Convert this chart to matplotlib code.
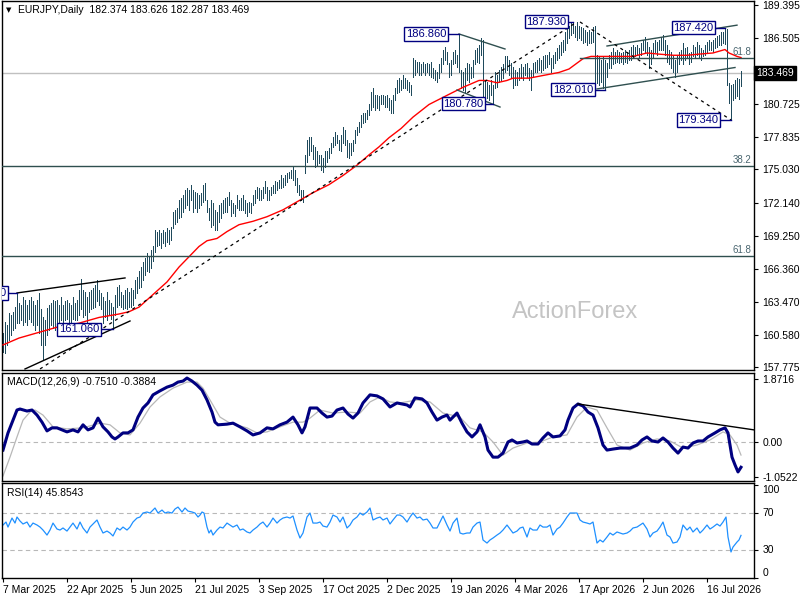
import matplotlib
matplotlib.use('Agg')
import matplotlib.pyplot as plt
import matplotlib.transforms as mtransforms

plt.rcParams['font.family'] = ['Liberation Sans', 'DejaVu Sans']

# ---------------- data ----------------
title_text = 'EURJPY,Daily  182.374 183.626 182.287 183.469'
macd_title = 'MACD(12,26,9) -0.7510 -0.3884'
rsi_title = 'RSI(14) 45.8543'
last_close = 183.469

# daily bar highs / lows, one per trading day from 7 Mar 2025
highs = [
    160.7, 161.7, 161.4, 162.5, 162.3, 162.6, 163.0, 164.2, 163.4, 163.2,
    163.9, 163.6, 163.2, 163.6, 163.9, 163.5, 163.2, 163.6, 164.2, 162.8,
    162.1, 161.9, 162.9, 163.2, 163.4, 163.6, 163.5, 163.6, 163.2, 163.9,
    163.2, 163.5, 163.6, 163.4, 163.2, 163.9, 163.4, 163.6, 164.5, 165.5,
    164.5, 164.3, 163.9, 164.3, 164.5, 164.7, 164.9, 165.4, 164.5, 164.2,
    163.9, 163.5, 164.3, 163.6, 163.4, 163.0, 164.1, 164.8, 164.9, 164.3,
    164.1, 164.5, 164.7, 164.3, 164.7, 164.5, 165.4, 165.6, 166.2, 166.5,
    166.9, 167.3, 167.7, 167.4, 168.0, 168.3, 169.7, 169.6, 169.7, 169.5,
    169.7, 169.6, 169.9, 169.7, 170.0, 171.3, 171.5, 171.7, 172.4, 172.5,
    172.8, 173.2, 173.4, 173.2, 173.7, 173.2, 173.1, 173.0, 172.8, 173.0,
    173.7, 173.8, 172.4, 171.7, 172.4, 172.1, 171.5, 171.3, 171.9, 172.1,
    172.4, 172.5, 172.6, 173.1, 172.4, 172.1, 171.9, 172.8, 172.4, 172.5,
    172.8, 172.4, 172.1, 172.2, 172.1, 172.8, 173.2, 173.5, 173.4, 173.2,
    173.5, 174.0, 173.5, 173.2, 173.5, 173.7, 174.0, 173.9, 174.1, 174.5,
    174.3, 174.5, 174.7, 174.8, 175.0, 175.2, 175.0, 174.3, 173.7, 173.2,
    173.2, 176.3, 177.6, 177.9, 177.9, 177.2, 177.0, 176.6, 176.3, 176.3,
    176.0, 176.6, 176.6, 176.9, 177.3, 177.9, 178.3, 178.0, 177.6, 178.0,
    178.7, 178.5, 177.6, 177.3, 177.3, 177.6, 178.5, 178.7, 179.2, 179.8,
    180.0, 180.0, 180.2, 180.7, 181.8, 182.1, 181.5, 181.5, 181.4, 181.5,
    181.5, 181.4, 181.5, 181.3, 181.1, 181.5, 182.1, 182.8, 183.0, 182.8,
    183.3, 183.0, 182.8, 182.7, 182.4, 184.8, 184.6, 184.4, 184.4, 184.2,
    184.4, 184.2, 184.3, 184.2, 184.4, 183.9, 183.7, 183.5, 184.2, 184.8,
    185.5, 185.7, 185.3, 184.3, 184.6, 185.3, 185.5, 185.0, 186.86, 183.7,
    183.5, 183.9, 184.3, 184.2, 184.0, 184.6, 185.5, 185.6, 185.9, 186.5,
    186.3, 182.8, 182.7, 182.4, 182.8, 182.4, 183.5, 183.3, 183.7, 184.0,
    184.2, 184.9, 184.9, 184.6, 184.3, 184.0, 183.7, 183.5, 183.9, 184.2,
    184.0, 184.2, 184.3, 183.9, 183.7, 184.3, 184.4, 184.6, 184.8, 184.6,
    184.9, 185.0, 185.0, 185.3, 184.8, 185.0, 185.3, 185.6, 185.9, 186.2,
    186.3, 187.0, 187.4, 187.6, 187.8, 187.93, 187.6, 187.9, 187.6, 187.5,
    187.4, 187.2, 187.0, 187.2, 187.0, 187.5, 187.6, 185.0, 184.9, 184.6,
    184.9, 184.6, 184.3, 185.0, 185.3, 185.6, 185.3, 185.5, 185.3, 185.2,
    185.3, 185.5, 185.3, 185.5, 185.7, 185.9, 185.7, 185.9, 185.6, 186.1,
    186.3, 186.6, 186.2, 185.7, 185.5, 186.1, 186.3, 186.2, 186.3, 186.6,
    186.8, 186.3, 185.9, 185.5, 185.3, 184.9, 184.6, 185.0, 185.3, 185.5,
    186.1, 185.6, 185.7, 185.2, 185.3, 185.9, 185.7, 186.2, 185.9, 185.6,
    185.5, 185.9, 186.2, 186.3, 186.2, 186.3, 186.5, 186.7, 186.8, 187.0,
    187.0, 187.42, 187.3, 182.6, 182.4, 182.5, 182.8, 183.0, 182.9, 183.63,
]
lows = [
    159.1, 159.0, 159.7, 160.1, 160.6, 161.0, 161.2, 161.6, 161.6, 161.9,
    161.4, 161.7, 161.4, 162.0, 161.7, 161.4, 161.0, 161.4, 160.7, 159.7,
    158.4, 159.7, 160.6, 161.0, 161.4, 161.2, 161.0, 161.4, 161.7, 161.9,
    161.4, 161.9, 162.0, 161.7, 161.7, 162.0, 161.9, 161.9, 162.3, 162.8,
    162.1, 162.3, 161.7, 162.6, 162.8, 162.9, 163.0, 163.5, 163.2, 162.8,
    161.6, 162.1, 161.9, 162.3, 162.0, 161.06, 162.3, 163.0, 163.2, 163.0,
    162.8, 162.9, 162.8, 163.0, 163.0, 163.2, 163.8, 164.2, 164.7, 164.8,
    165.4, 165.8, 166.2, 166.1, 166.4, 167.0, 167.8, 168.3, 168.4, 168.2,
    168.6, 168.3, 168.7, 168.5, 168.9, 169.9, 170.3, 170.4, 170.8, 170.9,
    171.3, 171.7, 171.9, 171.5, 172.4, 171.3, 171.7, 171.3, 171.7, 171.9,
    172.2, 172.4, 171.3, 170.6, 170.0, 170.2, 169.7, 169.7, 170.4, 170.8,
    171.2, 171.3, 171.3, 171.9, 171.0, 171.2, 171.0, 171.7, 171.5, 171.5,
    171.5, 171.2, 171.0, 171.3, 171.2, 171.9, 172.1, 172.5, 172.4, 172.4,
    172.5, 173.0, 172.4, 172.4, 172.8, 173.0, 173.0, 173.2, 173.4, 173.4,
    173.5, 173.7, 173.9, 174.3, 174.3, 174.1, 173.7, 173.1, 172.8, 172.4,
    172.2, 174.7, 175.7, 176.3, 176.6, 175.9, 175.2, 175.4, 175.6, 175.0,
    174.8, 175.2, 175.7, 176.0, 176.5, 177.0, 177.2, 177.3, 176.7, 176.6,
    177.3, 177.2, 176.1, 176.0, 176.3, 176.6, 177.3, 178.0, 178.3, 178.7,
    179.1, 179.2, 179.4, 179.8, 180.2, 180.5, 180.2, 180.4, 180.2, 180.7,
    180.7, 180.5, 180.5, 180.2, 180.0, 180.0, 181.1, 181.7, 181.8, 182.0,
    182.1, 182.1, 182.0, 181.8, 181.5, 183.1, 183.3, 183.5, 183.3, 183.3,
    183.5, 183.3, 183.5, 183.3, 183.1, 183.0, 182.8, 182.7, 183.0, 183.5,
    184.2, 184.6, 184.2, 183.1, 183.3, 184.2, 184.3, 184.0, 183.5, 182.1,
    182.0, 181.8, 182.8, 182.7, 183.0, 183.1, 184.2, 184.4, 184.3, 185.0,
    181.1, 181.4, 181.3, 181.1, 181.5, 180.78, 182.1, 182.2, 182.7, 182.8,
    183.0, 183.5, 183.7, 183.3, 183.0, 182.1, 182.4, 182.4, 182.8, 183.0,
    182.8, 183.3, 183.1, 182.8, 182.0, 183.1, 183.5, 183.5, 183.7, 183.5,
    183.7, 183.9, 184.0, 184.2, 183.5, 183.9, 184.3, 184.6, 184.8, 185.0,
    185.3, 185.5, 186.1, 186.5, 186.8, 186.95, 186.6, 186.3, 186.5, 186.3,
    186.1, 186.2, 185.9, 186.1, 186.1, 186.2, 182.4, 182.6, 182.4, 182.7,
    182.1, 182.01, 183.1, 183.9, 183.9, 184.2, 184.3, 184.4, 184.3, 184.4,
    184.2, 184.4, 184.3, 184.6, 184.6, 184.8, 184.9, 185.0, 184.8, 185.0,
    185.5, 185.3, 185.0, 183.9, 184.2, 184.8, 185.3, 185.0, 185.5, 185.5,
    185.5, 185.0, 184.4, 184.2, 183.9, 183.5, 183.1, 183.5, 184.2, 184.6,
    184.2, 184.6, 184.8, 184.2, 184.4, 184.9, 184.8, 185.0, 184.8, 184.6,
    184.9, 185.0, 185.3, 185.5, 185.5, 185.3, 185.6, 185.7, 185.9, 185.9,
    186.1, 186.0, 182.4, 180.8, 179.34, 181.1, 181.3, 181.4, 181.2, 182.29,
]

# moving average (red), (bar, price)
ma_line = [
    (0, 159.7), (8, 160.3), (18, 160.8), (28, 161.3), (38, 161.6), (48, 162.1),
    (58, 162.4), (63, 162.6), (68, 163.0), (75, 164.1), (82, 165.2), (88, 166.5),
    (93, 167.4), (98, 168.3), (102, 168.8), (107, 169.0), (112, 169.6), (118, 170.2),
    (125, 170.5), (132, 170.9), (140, 171.5), (148, 172.3), (155, 173.0), (163, 173.7),
    (170, 174.5), (177, 175.4), (183, 176.3), (188, 177.0), (193, 177.8), (199, 178.6),
    (205, 179.6), (213, 180.7), (222, 181.5), (230, 182.2), (238, 182.8), (242, 182.8),
    (247, 182.6), (252, 182.8), (255, 183.0), (263, 183.0), (272, 183.3), (278, 183.5),
    (283, 183.8), (290, 184.7), (294, 184.9), (298, 184.9), (315, 184.9), (322, 185.2),
    (328, 185.1), (335, 185.0), (342, 185.0), (348, 185.1), (355, 185.2), (361, 185.5),
    (363, 185.2), (367, 184.9), (369, 184.8),
]

macd_line = [
    (0, -0.24), (2.5, 0.27), (5, 0.65), (7, 0.95), (8.5, 0.98), (12, 0.92), (14.5, 0.95),
    (17, 0.80), (19.5, 0.59), (22, 0.33), (24.5, 0.42), (27, 0.42), (29.5, 0.36), (32, 0.30),
    (35, 0.36), (37.5, 0.30), (40, 0.51), (42.5, 0.36), (45, 0.42), (47.5, 0.71), (50, 0.45),
    (52.5, 0.30), (54.5, 0.15), (56, 0.09), (57.5, 0.15), (60, 0.27), (62.5, 0.27), (65, 0.36),
    (67.5, 0.74), (70, 1.01), (72.5, 1.16), (75, 1.40), (78.5, 1.52), (82, 1.63), (85, 1.69),
    (87.5, 1.78), (90, 1.81), (92, 1.90), (94.5, 1.81), (97, 1.69), (99.5, 1.54), (102, 1.25),
    (104.5, 0.89), (106, 0.59), (107.5, 0.51), (112, 0.53), (115, 0.56), (118.5, 0.45),
    (122, 0.33), (125, 0.21), (128.5, 0.27), (132, 0.42), (135, 0.39), (138.5, 0.51),
    (142, 0.59), (145, 0.74), (147.5, 0.51), (149.5, 0.27), (151, 0.45), (153.5, 1.01),
    (157, 1.01), (159.5, 0.86), (162, 0.74), (164.5, 0.77), (167, 0.95), (170, 1.01),
    (172.5, 0.83), (175, 0.71), (177.5, 0.86), (180, 1.16), (183.5, 1.40), (187, 1.37),
    (190, 1.28), (193.5, 1.04), (197, 1.16), (202, 1.10), (203.5, 1.04), (206, 1.31),
    (209.5, 1.28), (212, 1.16), (214.5, 0.89), (217, 0.65), (219.5, 0.74), (222, 0.80),
    (223.5, 0.65), (225, 0.74), (227, 0.86), (229.5, 0.56), (232, 0.30), (234.5, 0.15),
    (237, 0.30), (238.5, 0.51), (241, 0.15), (242.5, -0.24), (245, -0.45), (247.5, -0.45),
    (250, -0.33), (252.5, 0.00), (254.5, 0.06), (257, -0.03), (260, 0.00), (262, 0.03),
    (264.5, -0.06), (267.5, -0.06), (270, 0.12), (272.5, 0.27), (275, 0.15), (278.5, 0.18),
    (281, 0.36), (282.5, 0.65), (285, 1.01), (287.5, 1.13), (290, 1.07), (292.5, 0.89),
    (295, 0.80), (297.5, 0.42), (300, -0.09), (302, -0.24), (305, -0.21), (308.5, -0.18),
    (313.5, -0.18), (317, -0.09), (319.5, 0.06), (322, 0.15), (324.5, 0.03), (327.5, 0.00),
    (330, 0.12), (332.5, 0.00), (335, -0.18), (337.5, -0.33), (340, -0.15), (342.5, -0.18),
    (345, -0.03), (347.5, 0.03), (350, 0.03), (352.5, 0.15), (356, 0.27), (358.5, 0.36),
    (361, 0.42), (362.5, 0.27), (364.5, -0.45), (366, -0.68), (367.5, -0.89), (369, -0.751),
]

signal_line = [
    (0, -1.01), (3.5, -0.45), (7, 0.15), (10, 0.65), (13.5, 0.89), (16, 0.95), (20, 0.80),
    (25, 0.45), (32, 0.39), (40, 0.42), (48.5, 0.56), (53.5, 0.51), (58.5, 0.27), (63.5, 0.21),
    (68.5, 0.56), (73.5, 1.04), (78.5, 1.34), (85, 1.60), (92, 1.78), (97, 1.78), (100, 1.60),
    (103.5, 1.25), (108.5, 0.74), (113.5, 0.56), (122, 0.42), (127, 0.27), (132, 0.30),
    (138.5, 0.45), (145, 0.59), (150, 0.59), (153.5, 0.71), (158.5, 0.95), (165, 0.86),
    (172, 0.89), (178.5, 0.86), (183.5, 1.19), (188.5, 1.34), (193.5, 1.19), (198.5, 1.16),
    (207, 1.25), (213.5, 1.19), (220, 0.86), (228.5, 0.74), (233.5, 0.42), (240, 0.30),
    (245, 0.00), (250, -0.39), (255, -0.18), (262, -0.03), (268.5, 0.00), (275, 0.15),
    (282, 0.21), (287, 0.74), (292, 1.04), (297, 0.95), (302, 0.42), (307, -0.09),
    (313.5, -0.24), (320, -0.03), (327, 0.09), (333.5, 0.03), (340, -0.18), (347, -0.09),
    (353.5, 0.06), (360, 0.30), (363.5, 0.21), (367, -0.09), (369, -0.388),
]

rsi_line = [
    (0, 57.0), (1.5, 60.2), (2.5, 54.8), (4.5, 64.5), (6, 59.1), (7, 65.6), (8.5, 61.3),
    (10, 58.1), (12, 60.2), (13.5, 54.8), (15, 59.1), (17, 57.0), (18.5, 54.8), (20, 51.6),
    (22, 46.2), (23.5, 51.6), (25, 59.1), (27, 52.7), (28.5, 51.6), (30, 53.8), (32, 50.5),
    (33.5, 54.8), (35, 59.1), (37, 52.7), (38.5, 60.2), (40, 53.8), (42, 48.4), (43.5, 54.8),
    (45, 58.1), (47, 62.4), (48.5, 54.8), (50, 48.4), (52, 50.5), (53.5, 48.4), (55, 45.2),
    (57, 53.8), (58.5, 51.6), (60, 54.8), (62, 51.6), (63.5, 54.8), (65, 60.2), (67, 64.5),
    (68.5, 65.6), (70, 69.9), (72, 71.0), (73.5, 69.9), (75, 73.1), (76, 75.3), (77.5, 69.9),
    (79.5, 73.1), (81, 69.9), (82.5, 71.0), (84.5, 69.9), (86, 74.2), (87.5, 76.3), (89.5, 71.0),
    (91, 75.3), (92.5, 72.0), (94.5, 71.0), (96, 69.9), (97.5, 65.6), (98.5, 67.7), (99.5, 71.0),
    (100.5, 69.9), (102, 54.8), (103, 48.4), (104, 51.6), (105, 46.2), (107, 51.6), (108.5, 54.8),
    (110, 53.8), (112, 59.1), (113.5, 57.0), (115, 54.8), (117, 57.0), (118.5, 51.6), (120, 52.7),
    (122, 49.5), (123.5, 48.4), (125, 51.6), (127, 54.8), (128.5, 58.1), (130, 60.2), (132, 54.8),
    (133.5, 59.1), (135, 64.5), (137, 59.1), (138.5, 62.4), (140, 64.5), (142, 65.6), (143.5, 64.5),
    (145, 66.7), (147, 51.6), (148.5, 43.0), (150, 48.4), (152, 65.6), (153.5, 69.9), (155, 59.1),
    (157, 59.1), (158.5, 60.2), (160, 55.9), (162, 54.8), (163.5, 60.2), (165, 67.7), (167, 65.6),
    (168.5, 60.2), (170, 65.6), (172, 53.8), (173.5, 57.0), (175, 62.4), (177, 65.6), (178.5, 69.9),
    (180, 67.7), (182, 71.0), (183.5, 75.3), (185, 62.4), (187, 64.5), (188.5, 65.6), (190, 62.4),
    (192, 64.5), (193.5, 58.1), (195, 62.4), (197, 67.7), (198.5, 67.7), (200, 65.6), (202, 60.2),
    (203.5, 65.6), (205, 69.9), (207, 64.5), (208.5, 65.6), (210, 62.4), (212, 63.4), (213.5, 59.1),
    (215, 53.8), (217, 53.8), (218.5, 60.2), (220, 66.7), (222, 57.0), (223.5, 50.5), (225, 59.1),
    (227, 64.5), (228.5, 48.4), (230, 47.3), (232, 48.4), (233.5, 48.4), (235, 54.8), (237, 59.1),
    (238.5, 60.2), (240, 40.9), (242, 37.6), (243.5, 40.9), (245, 43.0), (247, 46.2), (248.5, 48.4),
    (250, 51.6), (252, 57.0), (253.5, 52.7), (255, 48.4), (257, 50.5), (258.5, 53.8), (260, 54.8),
    (262, 44.1), (263.5, 53.8), (265, 51.6), (267, 51.6), (268.5, 57.0), (270, 54.8), (272, 54.8),
    (273.5, 57.0), (275, 46.2), (277, 52.7), (278.5, 54.8), (280, 59.1), (282, 65.6), (283.5, 69.9),
    (285, 69.9), (287, 69.9), (288.5, 62.4), (290, 60.2), (292, 59.1), (293.5, 58.1), (295, 60.2),
    (297, 37.6), (298.5, 40.9), (300, 38.7), (302, 44.1), (303.5, 48.4), (305, 46.2), (307, 49.5),
    (308.5, 48.4), (310, 47.3), (312, 48.4), (313.5, 50.5), (315, 53.8), (317, 54.8), (318.5, 57.0),
    (320, 59.1), (322, 52.7), (323.5, 44.1), (325, 48.4), (327, 50.5), (328.5, 54.8), (330, 60.2),
    (332, 46.2), (333.5, 44.1), (335, 37.6), (337, 38.7), (338.5, 44.1), (340, 57.0), (342, 51.6),
    (343.5, 54.8), (345, 49.5), (347, 53.8), (348.5, 48.4), (350, 51.6), (352, 57.0), (353.5, 52.7),
    (355, 54.8), (357, 58.1), (358.5, 55.9), (360, 60.2), (361.5, 65.6), (362.5, 44.1), (364, 28.0),
    (365, 33.3), (367, 38.7), (368, 40.9), (369, 45.85),
]

price_ticks = [189.395, 186.505, 180.725, 177.835, 175.030, 172.140,
               169.250, 166.360, 163.470, 160.580, 157.775]
macd_ticks = [1.8716, 0.0, -1.0522]
macd_tick_labels = ['1.8716', '0.00', '-1.0522']
rsi_ticks = [100, 70, 30, 0]
date_bars = [0, 32, 64, 96, 128, 160, 192, 224, 256, 288, 320, 352]
date_labels = ['7 Mar 2025', '22 Apr 2025', '5 Jun 2025', '21 Jul 2025',
               '3 Sep 2025', '17 Oct 2025', '2 Dec 2025', '19 Jan 2026',
               '4 Mar 2026', '17 Apr 2026', '2 Jun 2026', '16 Jul 2026']

# swing tags: (bar of swing, price, text)
swing_tags = [
    (7, 164.24, '164.240'),
    (55, 161.06, '161.060'),
    (228, 186.86, '186.860'),
    (245, 180.78, '180.780'),
    (285, 187.93, '187.930'),
    (301, 182.01, '182.010'),
    (361, 187.42, '187.420'),
    (364, 179.34, '179.340'),
]
# gap in bars between tag box and the swing bar
tag_gaps = [4.5, 6, 5.5, 4, 2.5, 5, 5, 5.5]

# trend lines drawn on the chart: ((bar0, bar1), (price0, price1))
solid_lines = [
    ((228, 251), (186.86, 185.55)),
    ((227, 248.5), (181.97, 180.48)),
    ((302, 367), (185.81, 187.63)),
    ((297, 366), (182.06, 183.93)),
]
black_lines = [
    ((7, 61), (164.24, 165.55)),
    ((11, 63.5), (157.6, 161.79)),
]
dashed_lines = [
    ((18.5, 287), (157.6, 187.91)),
    ((288.5, 364), (187.91, 179.35)),
]
fib_levels = [(184.76, '61.8', 288.5), (175.33, '38.2', -0.5), (167.47, '61.8', -0.5)]
macd_trend = ((287.5, 375.5), (1.13, 0.36))

# ---------------- figure ----------------
W, H = 800.0, 600.0
fig = plt.figure(figsize=(8, 6), dpi=100)
fig.patch.set_facecolor('white')

BAR_C = '#1f4a5c'
LINE_C = '#2f4f4f'
NAVY = '#000080'
SILVER = '#b8b8b8'
XMAX = 375.5


def panel(top, bottom):
    a = fig.add_axes([2 / W, 1 - bottom / H, 752 / W, (bottom - top) / H])
    a.set_xlim(-0.5, XMAX)
    for s in a.spines.values():
        s.set_linewidth(1.0)
        s.set_color('black')
    a.yaxis.tick_right()
    a.tick_params(axis='y', direction='out', length=3, width=0.8, pad=3,
                  labelsize=7.5, colors='black')
    a.tick_params(axis='x', bottom=False, labelbottom=False)
    return a


ax = panel(1, 370)
ax_macd = panel(373, 481)
ax_rsi = panel(483, 578)

# ----- price panel -----
ax.set_ylim(157.51, 189.74)
ax.set_yticks(price_ticks)
ax.set_yticklabels(['%.3f' % p for p in price_ticks])

ax.vlines(range(len(highs)), lows, highs, colors=BAR_C, lw=0.72, zorder=2,
          antialiased=False)
ax.plot([p[0] for p in ma_line], [p[1] for p in ma_line], color='red', lw=1.0, zorder=3)

ax.axhline(last_close, color='#c0c0c0', lw=1.0, zorder=1)
blend = mtransforms.blended_transform_factory(ax.transAxes, ax.transData)
for price, name, start in fib_levels:
    ax.plot([start, XMAX], [price, price], color=LINE_C, lw=1.0, zorder=3)
    ax.text(0.997, price + 0.12, name, transform=blend, ha='right', va='bottom',
            fontsize=7, color='#4a6670')

for xs, ys in solid_lines:
    ax.plot(xs, ys, color=LINE_C, lw=1.0, zorder=4)
for xs, ys in black_lines:
    ax.plot(xs, ys, color='black', lw=1.0, zorder=4)
for xs, ys in dashed_lines:
    ax.plot(xs, ys, color='black', lw=0.9, ls=(0, (2.5, 3)), zorder=4)

for (bar, price, txt), gap in zip(swing_tags, tag_gaps):
    ax.plot([bar - gap, bar], [price, price], color=NAVY, lw=1.0, zorder=5)
    t = ax.text(bar - gap - 0.8, price, txt, ha='right', va='center', fontsize=8,
                color=NAVY, zorder=6,
                bbox=dict(boxstyle='square,pad=0.15', fc='white', ec=NAVY, lw=1.0))
    t.set_clip_on(True)

ax.text(0.762, 0.157, 'ActionForex', transform=ax.transAxes, ha='center',
        va='center', fontsize=17, color='#c4c4c4', zorder=1)
ax.text(1.003, last_close, '%.3f' % last_close, transform=blend, ha='left',
        va='center', fontsize=7.5, color='white', clip_on=False,
        bbox=dict(boxstyle='square,pad=0.2', fc='black', ec='black'))
ax.text(0.0093, 0.976, '\u25bc', transform=ax.transAxes, ha='center', va='center',
        fontsize=5, family='DejaVu Sans')
ax.text(0.0213, 0.976, title_text, transform=ax.transAxes, ha='left', va='center',
        fontsize=7.5)

# ----- MACD panel -----
ax_macd.set_ylim(-1.159, 2.05)
ax_macd.set_yticks(macd_ticks)
ax_macd.set_yticklabels(macd_tick_labels)
ax_macd.axhline(0, color=SILVER, lw=0.8, ls=(0, (4, 3)))
ax_macd.plot([p[0] for p in signal_line], [p[1] for p in signal_line],
             color=SILVER, lw=0.9)
ax_macd.plot([p[0] for p in macd_line], [p[1] for p in macd_line],
             color=NAVY, lw=2.2)
ax_macd.plot(macd_trend[0], macd_trend[1], color='black', lw=1.0)
ax_macd.text(0.007, 0.917, macd_title, transform=ax_macd.transAxes, ha='left',
             va='center', fontsize=7.5)

# ----- RSI panel -----
ax_rsi.set_ylim(0, 102.2)
ax_rsi.set_yticks(rsi_ticks)
ax_rsi.set_yticklabels([str(v) for v in rsi_ticks])
for lbl, va in zip(ax_rsi.get_yticklabels(), ['top', 'center', 'center', 'bottom']):
    lbl.set_va(va)
for lvl in (70, 30):
    ax_rsi.axhline(lvl, color=SILVER, lw=0.8, ls=(0, (4, 3)))
ax_rsi.plot([p[0] for p in rsi_line], [p[1] for p in rsi_line],
            color='#1e90ff', lw=0.9)
ax_rsi.text(0.007, 0.895, rsi_title, transform=ax_rsi.transAxes, ha='left',
            va='center', fontsize=7.5)

ax_rsi.tick_params(axis='x', bottom=True, labelbottom=True, direction='out',
                   length=3, width=0.8, pad=2, labelsize=7.5)
ax_rsi.set_xticks(date_bars)
ax_rsi.set_xticklabels(date_labels, ha='left')

fig.savefig('out.png', dpi=100, facecolor='white')
